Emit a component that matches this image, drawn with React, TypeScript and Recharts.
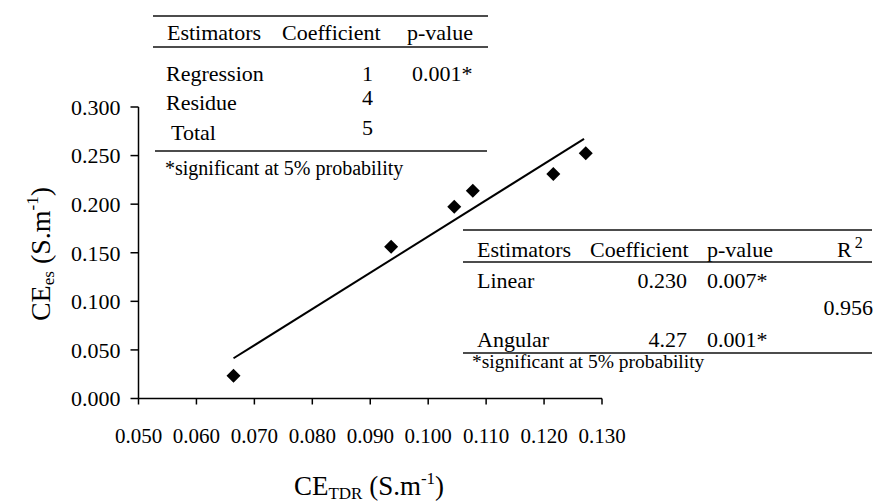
import React from "react";
import { ScatterChart, Scatter, XAxis, YAxis } from "recharts";

const xTicks = [0.05, 0.06, 0.07, 0.08, 0.09, 0.1, 0.11, 0.12, 0.13];
const yTicks = [0, 0.05, 0.1, 0.15, 0.2, 0.25, 0.3];

const ceTdr = [0.0664, 0.0936, 0.1045, 0.1077, 0.1216, 0.1272];
const ceEs = [0.0235, 0.1562, 0.1974, 0.2139, 0.2311, 0.2524];

const fitX = [0.0664, 0.1269];
const fitY = [0.0414, 0.2671];

const anovaHeader = ["Estimators", "Coefficient", "p-value"];
const anovaNames = ["Regression", "Residue", "Total"];
const anovaCoef = ["1", "4", "5"];
const anovaP = ["0.001*", "", ""];

const regHeader = ["Estimators", "Coefficient", "p-value", "R"];
const regNames = ["Linear", "Angular"];
const regCoef = ["0.230", "4.27"];
const regP = ["0.007*", "0.001*"];
const r2Value = "0.956";
const footnote = "*significant at 5% probability";

const FONT = "Liberation Serif, Times New Roman, Tinos, serif";

const points = ceTdr.map((x, i) => ({ x, y: ceEs[i] }));
const fitData = fitX.map((x, i) => ({ x, y: fitY[i] }));

const Diamond = (props: any) => {
  const { cx, cy } = props;
  if (cx == null || cy == null) return <g />;
  const r = 7;
  return (
    <path
      d={`M${cx},${cy - r}L${cx + r},${cy}L${cx},${cy + r}L${cx - r},${cy}Z`}
      fill="#000"
    />
  );
};

const NoShape = () => <g />;

const fmt = (v: number) => v.toFixed(3);

export default function App() {
  const W = 875;
  const H = 502;
  const ts = { fontFamily: FONT };
  return (
    <div style={{ position: "absolute", left: 0, top: 0, width: W, height: H, background: "#fff", fontFamily: FONT }}>
      <ScatterChart
        width={W}
        height={H}
        style={ts}
        margin={{ top: 107, right: 273, bottom: 63.5, left: 58.5 }}
      >
        <XAxis
          type="number"
          dataKey="x"
          domain={[0.05, 0.13]}
          ticks={xTicks}
          tickFormatter={fmt}
          allowDataOverflow
          height={40}
          tickSize={6}
          tickMargin={23.5}
          axisLine={{ stroke: "#000", strokeWidth: 1.5 }}
          tickLine={{ stroke: "#000", strokeWidth: 1.5 }}
          tick={{ fill: "#000", fontSize: 21, fontFamily: FONT, style: ts }}
        />
        <YAxis
          type="number"
          dataKey="y"
          domain={[0, 0.3]}
          ticks={yTicks}
          tickFormatter={fmt}
          allowDataOverflow
          width={80}
          tickSize={8}
          tickMargin={10}
          axisLine={{ stroke: "#000", strokeWidth: 1.5 }}
          tickLine={{ stroke: "#000", strokeWidth: 1.5 }}
          tick={{ fill: "#000", fontSize: 22, fontFamily: FONT, style: ts }}
        />
        <Scatter
          data={fitData}
          line={{ stroke: "#000", strokeWidth: 2 }}
          shape={NoShape}
          legendType="none"
          isAnimationActive={false}
        />
        <Scatter data={points} shape={Diamond} isAnimationActive={false} />
      </ScatterChart>

      <svg
        width={W}
        height={H}
        style={{ position: "absolute", left: 0, top: 0, pointerEvents: "none", fontFamily: FONT }}
      >
        {/* Axis titles */}
        <text x={369} y={495} textAnchor="middle" fontSize={27} fill="#000" style={ts}>
          CE
          <tspan fontSize={17} dy={4}>TDR</tspan>
          <tspan fontSize={27} dy={-4}> (S.m</tspan>
          <tspan fontSize={17} dy={-11}>-1</tspan>
          <tspan fontSize={27} dy={11}>)</tspan>
        </text>
        <text transform="translate(50,254) rotate(-90)" textAnchor="middle" fontSize={28} fill="#000" style={ts}>
          CE
          <tspan fontSize={17} dy={4}>es</tspan>
          <tspan fontSize={28} dy={-4}> (S.m</tspan>
          <tspan fontSize={17} dy={-12}>-1</tspan>
          <tspan fontSize={28} dy={12}>)</tspan>
        </text>

        {/* Top-left ANOVA table */}
        <line x1={153} x2={488} y1={16} y2={16} stroke="#111" strokeWidth={1.5} />
        <text x={167} y={40} fontSize={22} fill="#000" style={ts}>{anovaHeader[0]}</text>
        <text x={282} y={40} fontSize={22} fill="#000" style={ts}>{anovaHeader[1]}</text>
        <text x={407} y={40} fontSize={22} fill="#000" style={ts}>{anovaHeader[2]}</text>
        <line x1={153} x2={488} y1={47} y2={47} stroke="#111" strokeWidth={1.5} />
        {anovaNames.map((n, i) => (
          <text key={n} x={i === 2 ? 171 : 166} y={[81, 110, 140][i]} fontSize={22} fill="#000" style={ts}>{n}</text>
        ))}
        {anovaCoef.map((c, i) => (
          <text key={"c" + i} x={373} y={[81, 105, 135][i]} textAnchor="end" fontSize={22} fill="#000" style={ts}>{c}</text>
        ))}
        {anovaP.map((p, i) => (
          <text key={"p" + i} x={412} y={81} fontSize={22} fill="#000" style={ts}>{p}</text>
        ))}
        <line x1={155} x2={487} y1={151} y2={151} stroke="#111" strokeWidth={1.5} />
        <text x={165} y={175} fontSize={20} fill="#000" style={ts}>{footnote}</text>

        {/* Right regression table */}
        <line x1={463} x2={872} y1={230} y2={230} stroke="#111" strokeWidth={1.5} />
        <text x={477} y={257} fontSize={22} fill="#000" style={ts}>{regHeader[0]}</text>
        <text x={590} y={257} fontSize={22} fill="#000" style={ts}>{regHeader[1]}</text>
        <text x={707} y={257} fontSize={22} fill="#000" style={ts}>{regHeader[2]}</text>
        <text x={837} y={257} fontSize={22} fill="#000" style={ts}>
          {regHeader[3]}
          <tspan fontSize={16} dy={-9} dx={3}>2</tspan>
        </text>
        <line x1={463} x2={872} y1={262} y2={262} stroke="#111" strokeWidth={1.5} />
        {regNames.map((n, i) => (
          <text key={n} x={477} y={[288, 347][i]} fontSize={22} fill="#000" style={ts}>{n}</text>
        ))}
        {regCoef.map((c, i) => (
          <text key={"rc" + i} x={687} y={[288, 347][i]} textAnchor="end" fontSize={22} fill="#000" style={ts}>{c}</text>
        ))}
        {regP.map((p, i) => (
          <text key={"rp" + i} x={707} y={[288, 347][i]} fontSize={22} fill="#000" style={ts}>{p}</text>
        ))}
        <text x={873} y={315} textAnchor="end" fontSize={22} fill="#000" style={ts}>{r2Value}</text>
        <line x1={463} x2={872} y1={353} y2={353} stroke="#111" strokeWidth={1.5} />
        <text x={472} y={368} fontSize={19.5} fill="#000" style={ts}>{footnote}</text>
      </svg>
    </div>
  );
}
